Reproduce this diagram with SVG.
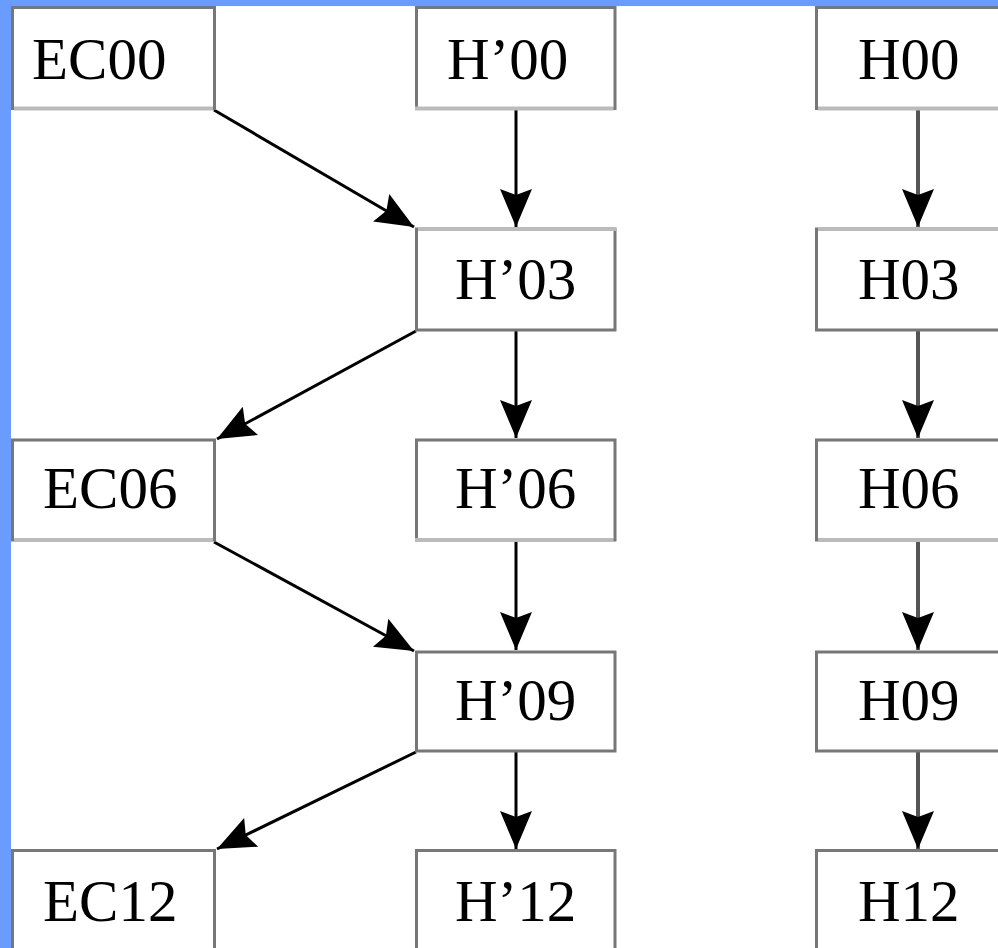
<svg xmlns="http://www.w3.org/2000/svg" width="998" height="948" viewBox="0 0 998 948">
  <style>
    .box { fill: #ffffff; stroke: #777777; stroke-width: 3; }
    .soft { stroke: #bbbbbb; stroke-width: 4; }
    .lbl { font-family: "Liberation Serif", "DejaVu Serif", serif; font-size: 59px; fill: #000000; }
    .edge { stroke: #000000; stroke-width: 3; fill: none; marker-end: url(#arrow); }
    .edge.grey { stroke: #555555; stroke-width: 4; }
  </style>
  <defs>
    <marker id="arrow" viewBox="-40 -18 42 36" markerWidth="42" markerHeight="36" refX="0" refY="0" orient="auto" markerUnits="userSpaceOnUse">
      <path d="M0,0 L-38,-16 L-32,0 L-38,16 Z" fill="#000000"/>
    </marker>
  </defs>
  <rect x="0" y="0" width="998" height="948" fill="#ffffff"/>
  <rect x="0" y="0" width="998" height="6" fill="#6a9cff"/>
  <rect x="0" y="0" width="11" height="948" fill="#6a9cff"/>

  <g id="connectors">
    <line class="edge" x1="214" y1="110" x2="414" y2="227"/>
    <line class="edge" x1="516" y1="110" x2="516" y2="227"/>
    <line class="edge grey" x1="918" y1="110" x2="918" y2="227"/>
    <line class="edge" x1="416" y1="331" x2="217" y2="439"/>
    <line class="edge" x1="516" y1="331" x2="516" y2="438"/>
    <line class="edge grey" x1="918" y1="331" x2="918" y2="438"/>
    <line class="edge" x1="214" y1="542" x2="414" y2="651"/>
    <line class="edge" x1="516" y1="542" x2="516" y2="650"/>
    <line class="edge grey" x1="918" y1="542" x2="918" y2="650"/>
    <line class="edge" x1="416" y1="752" x2="217" y2="849"/>
    <line class="edge" x1="516" y1="752" x2="516" y2="849"/>
    <line class="edge grey" x1="918" y1="752" x2="918" y2="849"/>
  </g>

  <g id="EC00"><rect class="box" x="12.5" y="7.5" width="202" height="101"/><line class="soft" x1="14" y1="108.5" x2="213" y2="108.5"/><text class="lbl" x="32" y="79">EC00</text></g>
  <g id="Hp00"><rect class="box" x="416.5" y="7.5" width="198.5" height="101"/><line class="soft" x1="415" y1="108.5" x2="613.5" y2="108.5"/><text class="lbl" x="447" y="79">H’00</text></g>
  <g id="H00"><rect class="box" x="816.5" y="7.5" width="200" height="101"/><line class="soft" x1="818" y1="108.5" x2="998" y2="108.5"/><text class="lbl" x="858" y="79">H00</text></g>

  <g id="Hp03"><rect class="box" x="416.5" y="229" width="198.5" height="101"/><line class="soft" x1="418" y1="229" x2="616" y2="229"/><text class="lbl" x="455" y="299">H’03</text></g>
  <g id="H03"><rect class="box" x="816.5" y="229" width="200" height="101"/><line class="soft" x1="818" y1="229" x2="998" y2="229"/><text class="lbl" x="858" y="299">H03</text></g>

  <g id="EC06"><rect class="box" x="12.5" y="440" width="202" height="100"/><line class="soft" x1="14" y1="540" x2="213" y2="540"/><text class="lbl" x="43" y="508">EC06</text></g>
  <g id="Hp06"><rect class="box" x="416.5" y="440" width="198.5" height="100"/><line class="soft" x1="415" y1="540" x2="613.5" y2="540"/><text class="lbl" x="455" y="508">H’06</text></g>
  <g id="H06"><rect class="box" x="816.5" y="440" width="200" height="100"/><line class="soft" x1="818" y1="540" x2="998" y2="540"/><text class="lbl" x="858" y="508">H06</text></g>

  <g id="Hp09"><rect class="box" x="416.5" y="652" width="198.5" height="99"/><text class="lbl" x="455" y="720">H’09</text></g>
  <g id="H09"><rect class="box" x="816.5" y="652" width="200" height="99"/><text class="lbl" x="858" y="720">H09</text></g>

  <g id="EC12"><rect class="box" x="12.5" y="850.5" width="202" height="120"/><text class="lbl" x="43" y="921">EC12</text></g>
  <g id="Hp12"><rect class="box" x="416.5" y="850.5" width="198.5" height="120"/><text class="lbl" x="455" y="921">H’12</text></g>
  <g id="H12"><rect class="box" x="816.5" y="850.5" width="200" height="120"/><text class="lbl" x="858" y="921">H12</text></g>
</svg>
